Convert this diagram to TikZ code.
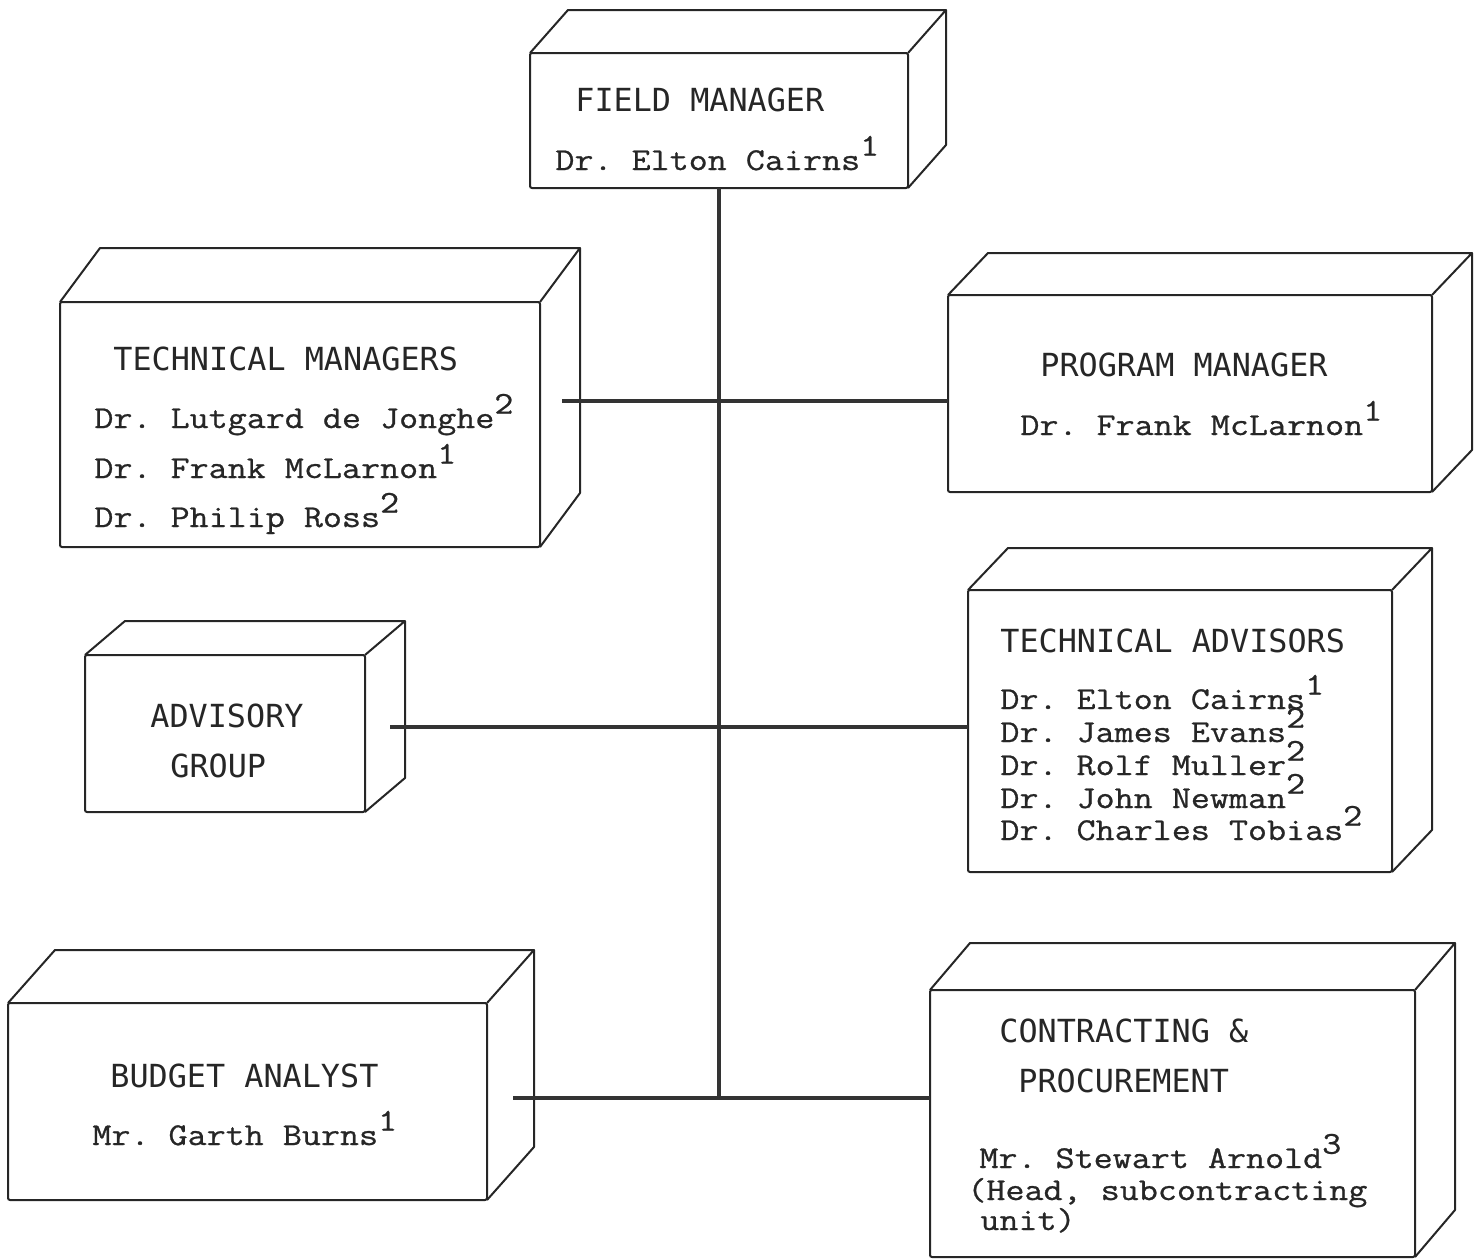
\documentclass[tikz,border=0pt]{standalone}
\usepackage{fontspec}
\setmonofont[FakeStretch=1.163,FakeBold=0.8]{Latin Modern Mono}
\newfontfamily\headfont{DejaVu Sans Mono}
\usetikzlibrary{calc}
\newcommand\sps[1]{\raisebox{0.45em}{#1}}
\newcommand\boxcube[7]{%
  \node[frontbox, minimum width={(#4-#2)*0.5pt}, minimum height={(#5-#3)*0.5pt}]
    (#1) at ({(#2+#4)/2},{(#3+#5)/2}) {};
  \draw[boxline] (#1.north west) -- ++(#6,#7) -- ($(#1.north east)+(#6,#7)$) -- (#1.north east);
  \draw[boxline] ($(#1.north east)+(#6,#7)$) -- ($(#1.south east)+(#6,#7)$) -- (#1.south east);
}
\tikzset{
  boxline/.style={line width=1pt, draw=black!85, line join=round},
  frontbox/.style={rectangle, draw=black!85, line width=1pt, inner sep=0pt, outer sep=0pt, rounded corners=1pt},
  hd/.style={anchor=base west, inner sep=0pt, font=\headfont\fontsize{15.9pt}{18pt}\selectfont, text=black!85},
  nm/.style={anchor=base west, inner sep=0pt, font=\ttfamily\fontsize{15.9pt}{18pt}\selectfont, text=black!85},
  link/.style={line width=1.6pt, draw=black!80},
}
\begin{document}
\begin{tikzpicture}[x=0.5pt,y=-0.5pt]
\useasboundingbox (0,0) rectangle (1480,1259);
% boxes
\boxcube{fm}{530}{53}{908}{188}{38}{-43}
\boxcube{tm}{60}{302}{540}{547}{40}{-54}
\boxcube{pm}{948}{295}{1432}{492}{40}{-42}
\boxcube{ag}{85}{655}{365}{812}{40}{-34}
\boxcube{ta}{968}{590}{1392}{872}{40}{-42}
\boxcube{ba}{8}{1003}{487}{1200}{47}{-53}
\boxcube{cp}{930}{990}{1415}{1257}{40}{-47}
% texts
\node[hd] (fmh) at (575,111) {FIELD MANAGER};
\node[nm] (fmn) at (555,170) {Dr. Elton Cairns\sps{1}};
\node[hd] (tmh) at (113,370) {TECHNICAL MANAGERS};
\node[nm] (tmn1) at (94,428) {Dr. Lutgard de Jonghe\sps{2}};
\node[nm] (tmn2) at (94,478) {Dr. Frank McLarnon\sps{1}};
\node[nm] (tmn3) at (94,527) {Dr. Philip Ross\sps{2}};
\node[hd] (pmh) at (1040,376) {PROGRAM MANAGER};
\node[nm] (pmn) at (1020,435) {Dr. Frank McLarnon\sps{1}};
\node[hd] (agh1) at (150,727) {ADVISORY};
\node[hd] (agh2) at (170,777) {GROUP};
\node[hd] (tah) at (1000,652) {TECHNICAL ADVISORS};
\node[nm] (tan1) at (1000,709) {Dr. Elton Cairns\sps{1}};
\node[nm] (tan2) at (1000,742) {Dr. James Evans\sps{2}};
\node[nm] (tan3) at (1000,775) {Dr. Rolf Muller\sps{2}};
\node[nm] (tan4) at (1000,808) {Dr. John Newman\sps{2}};
\node[nm] (tan5) at (1000,840) {Dr. Charles Tobias\sps{2}};
\node[hd] (bah) at (110,1087) {BUDGET ANALYST};
\node[nm] (ban) at (92,1145) {Mr. Garth Burns\sps{1}};
\node[hd] (cph1) at (999,1042) {CONTRACTING \&};
\node[hd] (cph2) at (1018,1092) {PROCUREMENT};
\node[nm] (cpn1) at (979,1168) {Mr. Stewart Arnold\sps{3}};
\node[nm] (cpn2) at (967,1200) {(Head, subcontracting};
\node[nm] (cpn3) at (980,1230) {unit)};
% connectors
\coordinate (tmport) at (562,401);
\coordinate (agport) at (390,727);
\coordinate (baport) at (513,1098);
\draw[link] (fm.south) -- (fm.south |- baport);
\draw[link] (tmport) -- (pm.west |- tmport);
\draw[link] (agport) -- (ta.west |- agport);
\draw[link] (baport) -- (cp.west |- baport);
\end{tikzpicture}
\end{document}
